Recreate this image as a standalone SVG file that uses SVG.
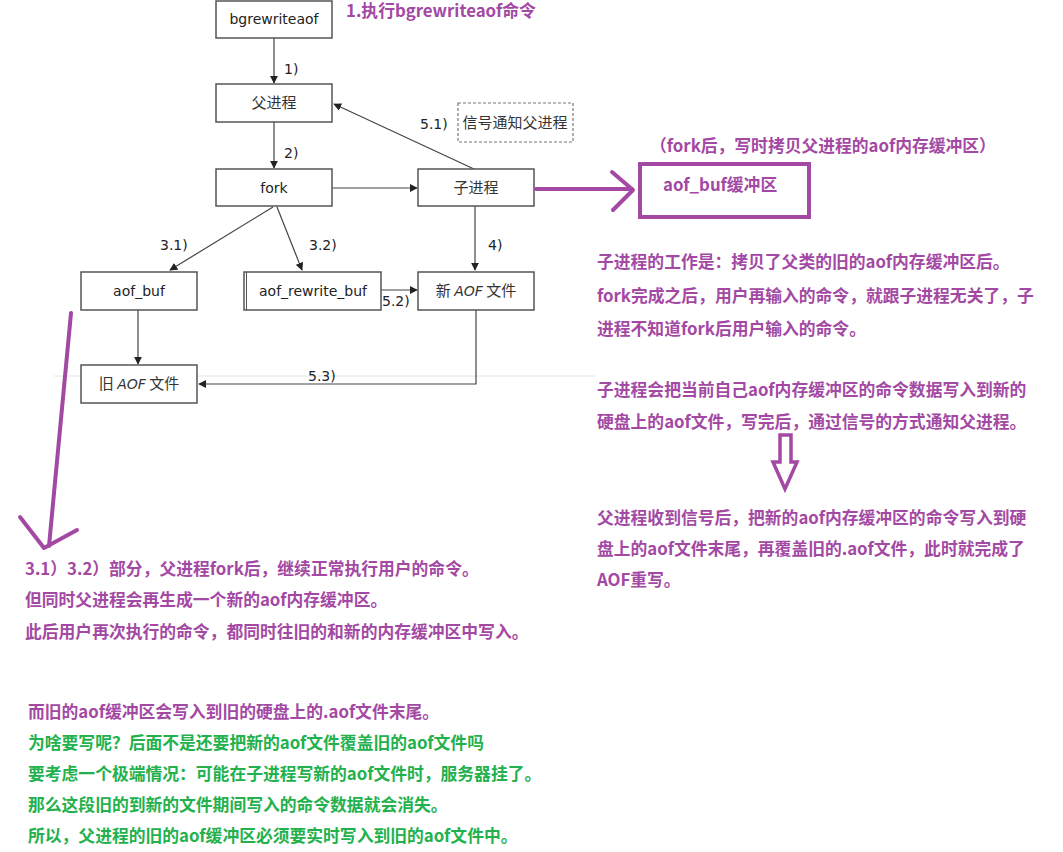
<svg xmlns="http://www.w3.org/2000/svg" width="1063" height="852" viewBox="0 0 1063 852">
<defs>
<style>
.box{fill:#fff;stroke:#555;stroke-width:1.5}
.lbl{font-family:"DejaVu Sans","Liberation Sans",sans-serif;font-size:14px;fill:#222}
.cn{font-family:"Noto Sans CJK SC","DejaVu Sans",sans-serif;font-size:15px;fill:#333}
.ln{fill:none;stroke:#444;stroke-width:1.2}
.pt{font-family:"Noto Sans CJK SC","Microsoft YaHei",sans-serif;font-size:16.8px;font-weight:bold;fill:#a349a4}
.gt{font-family:"Noto Sans CJK SC","Microsoft YaHei",sans-serif;font-size:16.8px;font-weight:bold;fill:#22b14c}
.pl{fill:none;stroke:#a349a4;stroke-width:4;stroke-linecap:round;stroke-linejoin:round}
</style>
<marker id="ah" viewBox="0 0 10 10" refX="9" refY="5" markerWidth="8" markerHeight="8" markerUnits="userSpaceOnUse" orient="auto">
<path d="M0,0 L10,5 L0,10 z" fill="#222"/>
</marker>
</defs>
<rect width="1063" height="852" fill="#fff"/>
<line x1="54" y1="376" x2="595" y2="376" stroke="#e4e4e4" stroke-width="1"/>

<g id="connectors">
<line class="ln" x1="274" y1="38" x2="274" y2="83" marker-end="url(#ah)"/>
<line class="ln" x1="274" y1="122" x2="274" y2="168" marker-end="url(#ah)"/>
<line class="ln" x1="332" y1="188" x2="417" y2="188" marker-end="url(#ah)"/>
<line class="ln" x1="474" y1="169" x2="334" y2="104" marker-end="url(#ah)"/>
<line class="ln" x1="273" y1="207" x2="170" y2="270" marker-end="url(#ah)"/>
<line class="ln" x1="277" y1="207" x2="302" y2="270" marker-end="url(#ah)"/>
<line class="ln" x1="475" y1="206" x2="475" y2="270" marker-end="url(#ah)"/>
<line class="ln" x1="381" y1="290" x2="417" y2="290" marker-end="url(#ah)"/>
<line class="ln" x1="138" y1="310" x2="138" y2="364" marker-end="url(#ah)"/>
<polyline class="ln" points="476,310 476,384 199,384" marker-end="url(#ah)"/>
<text class="lbl" x="284" y="74">1)</text>
<text class="lbl" x="284" y="158">2)</text>
<text class="lbl" x="420" y="129">5.1)</text>
<text class="lbl" x="160" y="250">3.1)</text>
<text class="lbl" x="309" y="250">3.2)</text>
<text class="lbl" x="488" y="250">4)</text>
<text class="lbl" x="382" y="306">5.2)</text>
<text class="lbl" x="308" y="381">5.3)</text>
</g>

<g id="bgrewriteaof"><rect class="box" x="216" y="1" width="116" height="37"/><text class="lbl" x="274" y="24" text-anchor="middle" font-size="15">bgrewriteaof</text></g>
<g id="parent"><rect class="box" x="216" y="84" width="116" height="38"/><text class="cn" x="274" y="108" text-anchor="middle">父进程</text></g>
<g id="fork"><rect class="box" x="216" y="169" width="116" height="37"/><text class="lbl" x="274" y="193" text-anchor="middle">fork</text></g>
<g id="child"><rect class="box" x="418" y="169" width="116" height="37"/><text class="cn" x="476" y="193" text-anchor="middle">子进程</text></g>
<g id="signal"><rect x="458" y="103" width="115" height="39" fill="#fff" stroke="#777" stroke-width="1.2" stroke-dasharray="3,2"/><text class="cn" x="515" y="128" text-anchor="middle">信号通知父进程</text></g>
<g id="aof_buf"><rect class="box" x="81" y="272" width="116" height="38"/><text class="lbl" x="139" y="296" text-anchor="middle">aof_buf</text></g>
<g id="aof_rewrite_buf"><rect class="box" x="244" y="272" width="137" height="38"/><line x1="246.5" y1="272" x2="246.5" y2="310" stroke="#555" stroke-width="1"/><text class="lbl" x="313" y="296" text-anchor="middle">aof_rewrite_buf</text></g>
<g id="new_aof"><rect class="box" x="418" y="272" width="116" height="38"/><text class="cn" x="476" y="296" text-anchor="middle">新 <tspan font-style="italic" font-family="DejaVu Sans,sans-serif" font-size="14">AOF</tspan> 文件</text></g>
<g id="old_aof"><rect class="box" x="81" y="365" width="116" height="38"/><text class="cn" x="139" y="389" text-anchor="middle">旧 <tspan font-style="italic" font-family="DejaVu Sans,sans-serif" font-size="14">AOF</tspan> 文件</text></g>

<g id="annotations">
<text class="pt" x="346" y="17">1.执行bgrewriteaof命令</text>
<polyline class="pl" points="536,189 632,189"/>
<polyline class="pl" points="612,172 633,190 613,210"/>
<g id="aof_buf_copy"><rect x="640" y="164" width="169" height="53" fill="none" stroke="#a349a4" stroke-width="4"/><text class="pt" x="663" y="191">aof_buf缓冲区</text></g>
<text class="pt" x="650" y="152">（fork后，写时拷贝父进程的aof内存缓冲区）</text>
<text class="pt" x="597" y="268">子进程的工作是：拷贝了父类的旧的aof内存缓冲区后。</text>
<text class="pt" x="597" y="302">fork完成之后，用户再输入的命令，就跟子进程无关了，子</text>
<text class="pt" x="597" y="335">进程不知道fork后用户输入的命令。</text>
<text class="pt" x="597" y="396">子进程会把当前自己aof内存缓冲区的命令数据写入到新的</text>
<text class="pt" x="597" y="428">硬盘上的aof文件，写完后，通过信号的方式通知父进程。</text>
<path d="M780,435 L791,435 L791,462 L797,462 L785,489 L773,462 L780,462 Z" fill="none" stroke="#a349a4" stroke-width="3.5" stroke-linejoin="miter"/>
<text class="pt" x="597" y="524">父进程收到信号后，把新的aof内存缓冲区的命令写入到硬</text>
<text class="pt" x="597" y="555">盘上的aof文件末尾，再覆盖旧的.aof文件，此时就完成了</text>
<text class="pt" x="597" y="586">AOF重写。</text>
<polyline class="pl" points="71,313 49,546"/>
<polyline class="pl" points="20,517 44,548 77,530"/>
<text class="pt" x="25" y="575">3.1）3.2）部分，父进程fork后，继续正常执行用户的命令。</text>
<text class="pt" x="25" y="606">但同时父进程会再生成一个新的aof内存缓冲区。</text>
<text class="pt" x="25" y="638">此后用户再次执行的命令，都同时往旧的和新的内存缓冲区中写入。</text>
<text class="pt" x="28" y="718">而旧的aof缓冲区会写入到旧的硬盘上的.aof文件末尾。</text>
<text class="gt" x="28" y="749">为啥要写呢？后面不是还要把新的aof文件覆盖旧的aof文件吗</text>
<text class="gt" x="28" y="780">要考虑一个极端情况：可能在子进程写新的aof文件时，服务器挂了。</text>
<text class="gt" x="28" y="811">那么这段旧的到新的文件期间写入的命令数据就会消失。</text>
<text class="gt" x="28" y="842">所以，父进程的旧的aof缓冲区必须要实时写入到旧的aof文件中。</text>
</g>
</svg>
